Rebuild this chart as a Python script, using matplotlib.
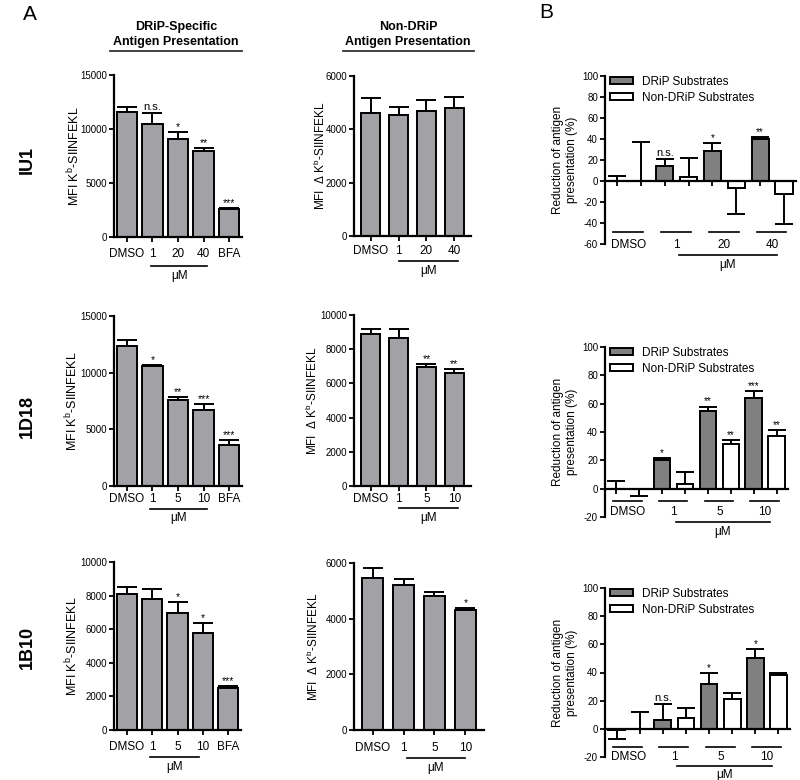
import numpy as np
import matplotlib
matplotlib.use('Agg')
import matplotlib.pyplot as plt
from matplotlib import transforms
from matplotlib.lines import Line2D

plt.rcParams['font.family'] = ['Liberation Sans', 'DejaVu Sans']
plt.rcParams['mathtext.default'] = 'regular'
plt.rcParams['axes.unicode_minus'] = False

# ---- data ----
doses_iu1 = ['1', '20', '40']
doses_small = ['1', '5', '10']

# IU1
iu1_drip = [11600, 10450, 9050, 8000, 2600]
iu1_drip_err = [460, 1000, 680, 210, 100]
iu1_non = [4600, 4540, 4700, 4790]
iu1_non_err = [560, 285, 400, 435]
iu1_red_drip = [0, 14, 29, 40]
iu1_red_drip_err = [4.7, 7, 7, 2.3]
iu1_red_non = [0, 3.4, -7, -12]
iu1_red_non_err = [37.5, 18.6, 24, 29]

# 1D18
d18_drip = [12350, 10570, 7570, 6750, 3610]
d18_drip_err = [520, 90, 300, 470, 440]
d18_non = [8870, 8680, 6940, 6590]
d18_non_err = [290, 480, 180, 230]
d18_red_drip = [0, 20.5, 54.5, 64]
d18_red_drip_err = [5.5, 1, 3.5, 4.7]
d18_red_non = [-0.5, 3, 31.5, 37]
d18_red_non_err = [5, 8.5, 3, 4.4]

# 1B10
b10_drip = [8100, 7780, 6950, 5790, 2520]
b10_drip_err = [420, 610, 690, 560, 100]
b10_non = [5450, 5200, 4810, 4310]
b10_non_err = [360, 210, 145, 72]
b10_red_drip = [-0.5, 6.5, 31.5, 50]
b10_red_drip_err = [7, 11, 8, 6.5]
b10_red_non = [0, 8, 21.5, 38]
b10_red_non_err = [12, 7, 4, 1.5]

W, H = 800, 780
fig = plt.figure(figsize=(W / 100, H / 100), dpi=100)

GRAY_A = '#a2a2a6'
GRAY_B = '#808080'


def px_rect(l, t, r, b):
    return [l / W, 1 - b / H, (r - l) / W, (b - t) / H]


def under(ax, dy):
    # x in data units, y = axes bottom shifted down by dy pixels
    base = transforms.blended_transform_factory(ax.transData, ax.transAxes)
    return transforms.offset_copy(base, fig=fig, x=0, y=-dy, units='dots')


def style(ax):
    for s in ['top', 'right']:
        ax.spines[s].set_visible(False)
    for s in ['left', 'bottom']:
        ax.spines[s].set_linewidth(1.6)
    ax.tick_params(direction='out', length=3.5, width=1.3, labelsize=7, pad=1.5)
    ax.tick_params(axis='x', labelbottom=False)


def err_pair(vals, errs):
    lo = [e if v < 0 else 0 for v, e in zip(vals, errs)]
    up = [0 if v < 0 else e for v, e in zip(vals, errs)]
    return [lo, up]


def stars(ax, x, vals, errs, marks, fs=7.5):
    for i, txt in marks.items():
        top = vals[i] + errs[i]
        ax.annotate(txt, (x[i], top), xytext=(0, 1 if txt == 'n.s.' else 0),
                    textcoords='offset points', ha='center', va='bottom',
                    fontsize=8 if txt == 'n.s.' else fs)


def ylab(ax, text, dx, fs):
    tr = transforms.offset_copy(ax.transAxes, fig=fig, x=-dx, units='dots')
    ax.text(0, 0.5, text, transform=tr, rotation=90, ha='center', va='center',
            fontsize=fs, linespacing=1.15)


def panel_a(rect, vals, errs, labels, ymax, ystep, marks, ylabel, ylfs, yldx,
            xlim, width, offs, ul):
    ax = fig.add_axes(px_rect(*rect))
    style(ax)
    x = np.arange(len(vals))
    ax.errorbar(x, vals, yerr=err_pair(vals, errs), fmt='none', ecolor='k',
                elinewidth=1.4, capsize=7, capthick=1.4, zorder=1)
    ax.bar(x, vals, width, color=GRAY_A, edgecolor='k', linewidth=1.4, zorder=2)
    ax.set_xlim(*xlim)
    ax.set_ylim(0, ymax)
    ax.set_yticks(np.arange(0, ymax + 1, ystep))
    ax.set_xticks(x)
    for xi, lab in zip(x, labels):
        ax.text(xi, 0, lab, transform=under(ax, offs[0]), ha='center', va='center',
                fontsize=8.5)
    ax.plot(ul, [0, 0], transform=under(ax, offs[1]), color='k', lw=1.2, clip_on=False)
    ax.text(np.mean(ul), 0, 'μM', transform=under(ax, offs[2]), ha='center',
            va='center', fontsize=8.5)
    stars(ax, x, vals, errs, marks)
    ylab(ax, ylabel, yldx, ylfs)
    return ax


def panel_b(rect, drip, drip_err, non, non_err, doses, ymin, marks_d, marks_n,
            offs, legend_y):
    ax = fig.add_axes(px_rect(*rect))
    style(ax)
    ax.spines['bottom'].set_position(('data', 0))
    pd = np.arange(4) * 2
    pn = pd + 1
    ax.errorbar(pd, drip, yerr=err_pair(drip, drip_err), fmt='none', ecolor='k',
                elinewidth=1.4, capsize=6.5, capthick=1.4, zorder=1)
    ax.errorbar(pn, non, yerr=err_pair(non, non_err), fmt='none', ecolor='k',
                elinewidth=1.4, capsize=6.5, capthick=1.4, zorder=1)
    b1 = ax.bar(pd, drip, 0.72, color=GRAY_B, edgecolor='k', linewidth=1.4, zorder=2,
                label='DRiP Substrates')
    b2 = ax.bar(pn, non, 0.72, color='white', edgecolor='k', linewidth=1.4, zorder=2,
                label='Non-DRiP Substrates')
    ax.set_xlim(-0.5, 7.5)
    ax.set_ylim(ymin, 100)
    ax.set_yticks(np.arange(ymin, 101, 20))
    ax.set_xticks(np.arange(8))
    groups = ['DMSO'] + doses
    for g, lab in enumerate(groups):
        ax.plot([2 * g - 0.15, 2 * g + 1.1], [0, 0], transform=under(ax, offs[0]),
                color='k', lw=1.2, clip_on=False)
        ax.text(2 * g + 0.5, 0, lab, transform=under(ax, offs[1]), ha='center',
                va='center', fontsize=8.5)
    ax.plot([2.6, 6.7], [0, 0], transform=under(ax, offs[2]), color='k', lw=1.2,
            clip_on=False)
    ax.text(4.65, 0, 'μM', transform=under(ax, offs[3]), ha='center', va='center',
            fontsize=8.5)
    stars(ax, pd, drip, drip_err, marks_d, fs=7)
    stars(ax, pn, non, non_err, marks_n, fs=7)
    ax.legend(handles=[b1, b2], loc='upper left', bbox_to_anchor=(0.0, legend_y),
              frameon=False, fontsize=8.5, handlelength=2.0, handleheight=0.6,
              handletextpad=0.7, labelspacing=0.35, borderaxespad=0.2, borderpad=0.2)
    ylab(ax, 'Reduction of antigen\npresentation (%)', 40, 8.5)
    return ax


lab5_iu1 = ['DMSO'] + doses_iu1 + ['BFA']
lab4_iu1 = ['DMSO'] + doses_iu1
lab5_s = ['DMSO'] + doses_small + ['BFA']
lab4_s = ['DMSO'] + doses_small

ylab_a1 = 'MFI K$^{b}$-SIINFEKL'
ylab_a2 = 'MFI  Δ K$^{b}$-SIINFEKL'

# row 1: IU1
panel_a((114, 75, 242, 237), iu1_drip, iu1_drip_err, lab5_iu1, 15000, 5000,
        {1: 'n.s.', 2: '*', 3: '**', 4: '***'}, ylab_a1, 9, 40,
        (-0.5, 4.5), 0.8, (17, 29, 39), (0.95, 3.15))
panel_a((354, 76, 471, 236), iu1_non, iu1_non_err, lab4_iu1, 6000, 2000,
        {}, ylab_a2, 8.5, 34, (-0.6, 3.6), 0.7, (15, 25, 35), (1.0, 3.13))
panel_b((605, 76, 796, 244), iu1_red_drip, iu1_red_drip_err, iu1_red_non,
        iu1_red_non_err, doses_iu1, -60, {1: 'n.s.', 2: '*', 3: '**'}, {},
        (-12, 1, 11, 21), 1.03)

# row 2: 1D18
panel_a((114, 316, 242, 486), d18_drip, d18_drip_err, lab5_s, 15000, 5000,
        {1: '*', 2: '**', 3: '***', 4: '***'}, ylab_a1, 9, 42,
        (-0.5, 4.5), 0.8, (13, 23, 32), (0.92, 3.15))
panel_a((354, 315, 471, 486), d18_non, d18_non_err, lab4_s, 10000, 2000,
        {2: '**', 3: '**'}, ylab_a2, 8.5, 42, (-0.6, 3.6), 0.7, (13, 22, 32),
        (1.0, 3.15))
panel_b((605, 347, 788, 517), d18_red_drip, d18_red_drip_err, d18_red_non,
        d18_red_non_err, doses_small, -20, {1: '*', 2: '**', 3: '***'},
        {2: '**', 3: '**'}, (-16, -5, 5, 15), 1.03)

# row 3: 1B10
panel_a((114, 562, 241, 730), b10_drip, b10_drip_err, lab5_s, 10000, 2000,
        {2: '*', 3: '*', 4: '***'}, ylab_a1, 9, 42,
        (-0.5, 4.5), 0.8, (17, 27, 37), (0.92, 2.85))
panel_a((354, 563, 484, 730), b10_non, b10_non_err, lab4_s, 6000, 2000,
        {3: '*'}, ylab_a2, 8.5, 41, (-0.6, 3.6), 0.7, (18, 28, 38), (1.1, 3.0))
panel_b((605, 588, 790, 757), b10_red_drip, b10_red_drip_err, b10_red_non,
        b10_red_non_err, doses_small, -20, {1: 'n.s.', 2: '*', 3: '*'}, {},
        (-10, 0, 9, 18), 1.03)


def ftext(x, y, s, **kw):
    fig.text(x / W, 1 - y / H, s, **kw)


def fline(x0, x1, y):
    fig.add_artist(Line2D([x0 / W, x1 / W], [1 - y / H, 1 - y / H],
                          transform=fig.transFigure, color='#333333', lw=1.3))


# headers
ftext(176, 27, 'DRiP-Specific', ha='center', va='center', fontsize=9, fontweight='bold')
ftext(176, 42, 'Antigen Presentation', ha='center', va='center', fontsize=9,
      fontweight='bold')
fline(110, 242, 51)
ftext(408, 27, 'Non-DRiP', ha='center', va='center', fontsize=9, fontweight='bold')
ftext(408, 42, 'Antigen Presentation', ha='center', va='center', fontsize=9,
      fontweight='bold')
fline(343, 474, 51)

# panel letters and row labels
ftext(30, 14, 'A', ha='center', va='center', fontsize=15)
ftext(546, 12, 'B', ha='center', va='center', fontsize=15)
for y, s in [(160, 'IU1'), (417, '1D18'), (647, '1B10')]:
    ftext(27, y, s, ha='center', va='center', fontsize=13, fontweight='bold',
          rotation=90)

fig.savefig('out.png', dpi=100)
